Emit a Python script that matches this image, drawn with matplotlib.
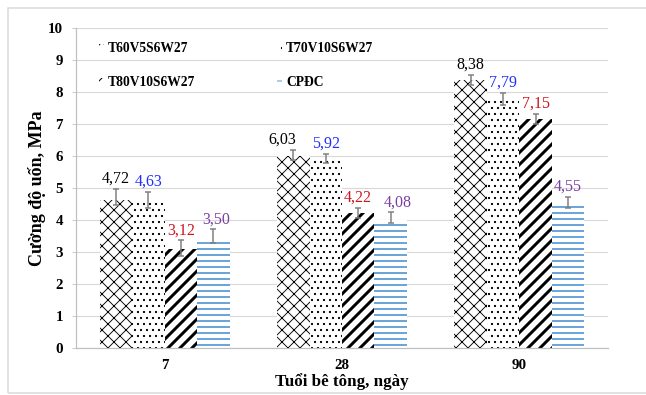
import matplotlib
matplotlib.use("Agg")
import matplotlib.pyplot as plt
import numpy as np
from matplotlib.patches import Rectangle

plt.rcParams['font.family'] = ['Liberation Serif', 'DejaVu Serif']

# Data
ages = ['7', '28', '90']
series = ['T60V5S6W27', 'T70V10S6W27', 'T80V10S6W27', 'CPĐC']

# drawn bar tops
t60_bar = [4.63, 6.00, 8.38]
t70_bar = [4.57, 5.93, 7.80]
t80_bar = [3.09, 4.21, 7.15]
cpdc_bar = [3.35, 4.00, 4.45]

# mean values (labels / error bar centres)
t60_mean = [4.72, 6.03, 8.38]
t70_mean = [4.63, 5.92, 7.79]
t80_mean = [3.12, 4.22, 7.15]
cpdc_mean = [3.50, 4.08, 4.55]

t60_err = [0.25, 0.17, 0.16]
t70_err = [0.26, 0.15, 0.19]
t80_err = [0.24, 0.17, 0.16]
cpdc_err = [0.21, 0.16, 0.17]

bars = [t60_bar, t70_bar, t80_bar, cpdc_bar]
means = [t60_mean, t70_mean, t80_mean, cpdc_mean]
errs = [t60_err, t70_err, t80_err, cpdc_err]

hatches = ['xx', '..', '//', '--']
hatch_lw = [0.9, 1.0, 3.0, 1.8]
edge_cols = ['black', 'black', 'black', '#5B9BD5']
label_cols = ['black', '#1F2FFF', '#D0141E', '#7A3FA0']
# small horizontal nudges (px) for a few labels
label_dx = {(1, 0): -11, (0, 3): 3, (1, 3): 7}

fig = plt.figure(figsize=(646 / 72, 395 / 72), dpi=72)
ax = fig.add_axes([76 / 646, 47 / 395, 532 / 646, 320 / 395])

x = np.arange(len(ages))
w = 0.183
offsets = (np.arange(4) - 1.5) * w

handles = []
for i in range(4):
    with plt.rc_context({'hatch.linewidth': hatch_lw[i]}):
        b = ax.bar(x + offsets[i], bars[i], w, color='white',
                   edgecolor=edge_cols[i], linewidth=0, hatch=hatches[i],
                   label=series[i], zorder=2)
        for p in b:
            try:
                p.set_hatch_linewidth(hatch_lw[i])
            except AttributeError:
                pass
    handles.append(b)
    ax.errorbar(x + offsets[i], means[i], yerr=errs[i], fmt='none',
                ecolor='#7F7F7F', elinewidth=1.5, capsize=3, capthick=1.5,
                zorder=3)
    for j in range(3):
        dx = label_dx.get((j, i), 0)
        ax.annotate(f"{means[i][j]:.2f}".replace('.', ','),
                    (x[j] + offsets[i], means[i][j] + errs[i][j]),
                    xytext=(dx, 2), textcoords='offset points',
                    ha='center', va='bottom', fontsize=16,
                    color=label_cols[i], zorder=4)

ax.set_xlim(-0.5, 2.5)
ax.set_ylim(0, 10)
ax.set_yticks(range(0, 11))
ax.set_xticks(x)
ax.set_xticklabels(ages)
ax.grid(axis='y', color='#D9D9D9', linewidth=1.2, zorder=0)
ax.set_axisbelow(True)
for s in ['top', 'right']:
    ax.spines[s].set_visible(False)
ax.spines['left'].set_color('#BFBFBF')
ax.spines['bottom'].set_color('#BFBFBF')
ax.spines['left'].set_linewidth(1.2)
ax.spines['bottom'].set_linewidth(1.2)
ax.tick_params(axis='y', length=4, color='#BFBFBF', labelsize=15, pad=9)
ax.tick_params(axis='x', length=0, labelsize=15, pad=11)
for t in ax.get_xticklabels() + ax.get_yticklabels():
    t.set_fontweight('bold')

ax.set_ylabel('Cường độ uốn, MPa', fontsize=18, fontweight='bold', labelpad=2)
ax.set_xlabel('Tuổi bê tông, ngày', fontsize=17, fontweight='bold', labelpad=1)

order = [0, 2, 1, 3]
leg = ax.legend([handles[k] for k in order], [series[k] for k in order],
                ncol=2, loc='upper left', bbox_to_anchor=(0.02, 0.995),
                frameon=False, handlelength=0.4, handleheight=0.4,
                handletextpad=0.3, columnspacing=6.0, labelspacing=1.6,
                prop={'weight': 'bold', 'size': 13.5})

fig.patches.append(Rectangle((8 / 646, 2 / 395), 660 / 646, 385 / 395,
                             transform=fig.transFigure, fill=False,
                             edgecolor='#D9D9D9', linewidth=1.5))

fig.savefig('out.png', dpi=72)
